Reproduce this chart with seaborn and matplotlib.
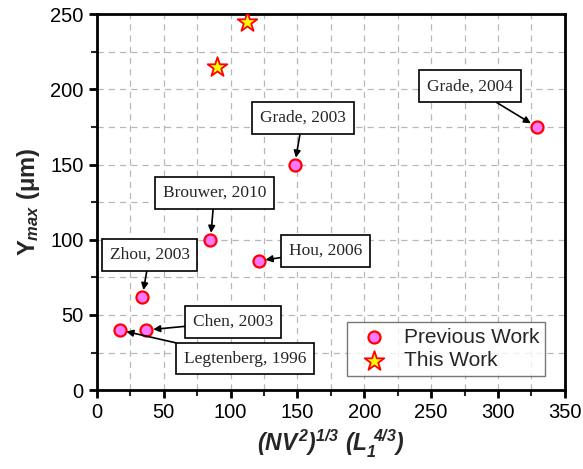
import matplotlib
matplotlib.use("Agg")
import matplotlib.pyplot as plt
import seaborn as sns
import pandas as pd
from matplotlib.ticker import MultipleLocator

# Data
prev_labels = ["Legtenberg, 1996", "Zhou, 2003", "Chen, 2003", "Brouwer, 2010",
               "Hou, 2006", "Grade, 2003", "Grade, 2004"]
prev_x = [17, 34, 37, 85, 121, 148, 329]
prev_y = [40, 62, 40, 100, 86, 150, 175]
this_x = [90, 112]
this_y = [215, 245]
# label box centres (data coords)
label_x = [111, 39.5, 102, 88, 171, 154, 279]
label_y = [21, 90, 45.5, 131, 92.5, 181, 202]

sns.set_theme(style="ticks")
plt.rcParams['font.family'] = ['Liberation Sans', 'DejaVu Sans']
plt.rcParams['mathtext.fontset'] = 'custom'
plt.rcParams['mathtext.it'] = 'Liberation Sans:bold:italic'
plt.rcParams['mathtext.rm'] = 'Liberation Sans:bold:italic'
plt.rcParams['mathtext.bf'] = 'Liberation Sans:bold'

fig = plt.figure(figsize=(5.83, 4.69), dpi=100)
ax = fig.add_axes([0.166, 0.168, 0.803, 0.802])

df_prev = pd.DataFrame({"x": prev_x, "y": prev_y})
df_this = pd.DataFrame({"x": this_x, "y": this_y})

sns.scatterplot(data=df_prev, x="x", y="y", ax=ax, marker="o", s=75,
                color="#FF77FF", edgecolor="#FF0000", linewidth=1.6,
                label="Previous Work", zorder=5)
sns.scatterplot(data=df_this, x="x", y="y", ax=ax, marker="*", s=220,
                color="#FFFF00", edgecolor="#FF0000", linewidth=1.3,
                label="This Work", zorder=5)

for lab, px, py, lx, ly in zip(prev_labels, prev_x, prev_y, label_x, label_y):
    ax.annotate(lab, xy=(px, py), xytext=(lx, ly), textcoords="data",
                ha="center", va="center", fontsize=12.5,
                family=["Liberation Serif", "DejaVu Serif"],
                bbox=dict(boxstyle="square,pad=0.45", fc="white", ec="black", lw=1.2),
                arrowprops=dict(arrowstyle="-|>", color="black", lw=1.2,
                                mutation_scale=10, shrinkA=0, shrinkB=5),
                zorder=6)

ax.set_xlim(0, 350)
ax.set_ylim(0, 250)
ax.xaxis.set_major_locator(MultipleLocator(50))
ax.xaxis.set_minor_locator(MultipleLocator(25))
ax.yaxis.set_major_locator(MultipleLocator(50))
ax.yaxis.set_minor_locator(MultipleLocator(25))
ax.grid(True, which="both", color="#B8B8B8", linestyle=(0, (5, 4)), linewidth=0.9)
ax.set_axisbelow(True)
ax.tick_params(which="major", direction="out", length=6, width=2, labelsize=14.5, colors="black")
ax.tick_params(which="minor", direction="out", length=4, width=1.5)
for sp in ax.spines.values():
    sp.set_linewidth(2)
    sp.set_color("black")

ax.set_xlabel(r"$(NV^2)^{1/3}\ (L_1^{\ 4/3})$", fontsize=16.5, labelpad=4)
ax.set_ylabel(r"Y$_{max}$ (μm)", fontsize=17, fontweight="bold", labelpad=6)

leg = ax.legend(loc="lower right", bbox_to_anchor=(0.958, 0.037), fontsize=15,
                frameon=True, fancybox=False, edgecolor="#555555", borderaxespad=0,
                handletextpad=0.4, borderpad=0.3, labelspacing=0.2, markerscale=1.0)
leg.get_frame().set_linewidth(1.0)

fig.savefig("out.png", dpi=100)
